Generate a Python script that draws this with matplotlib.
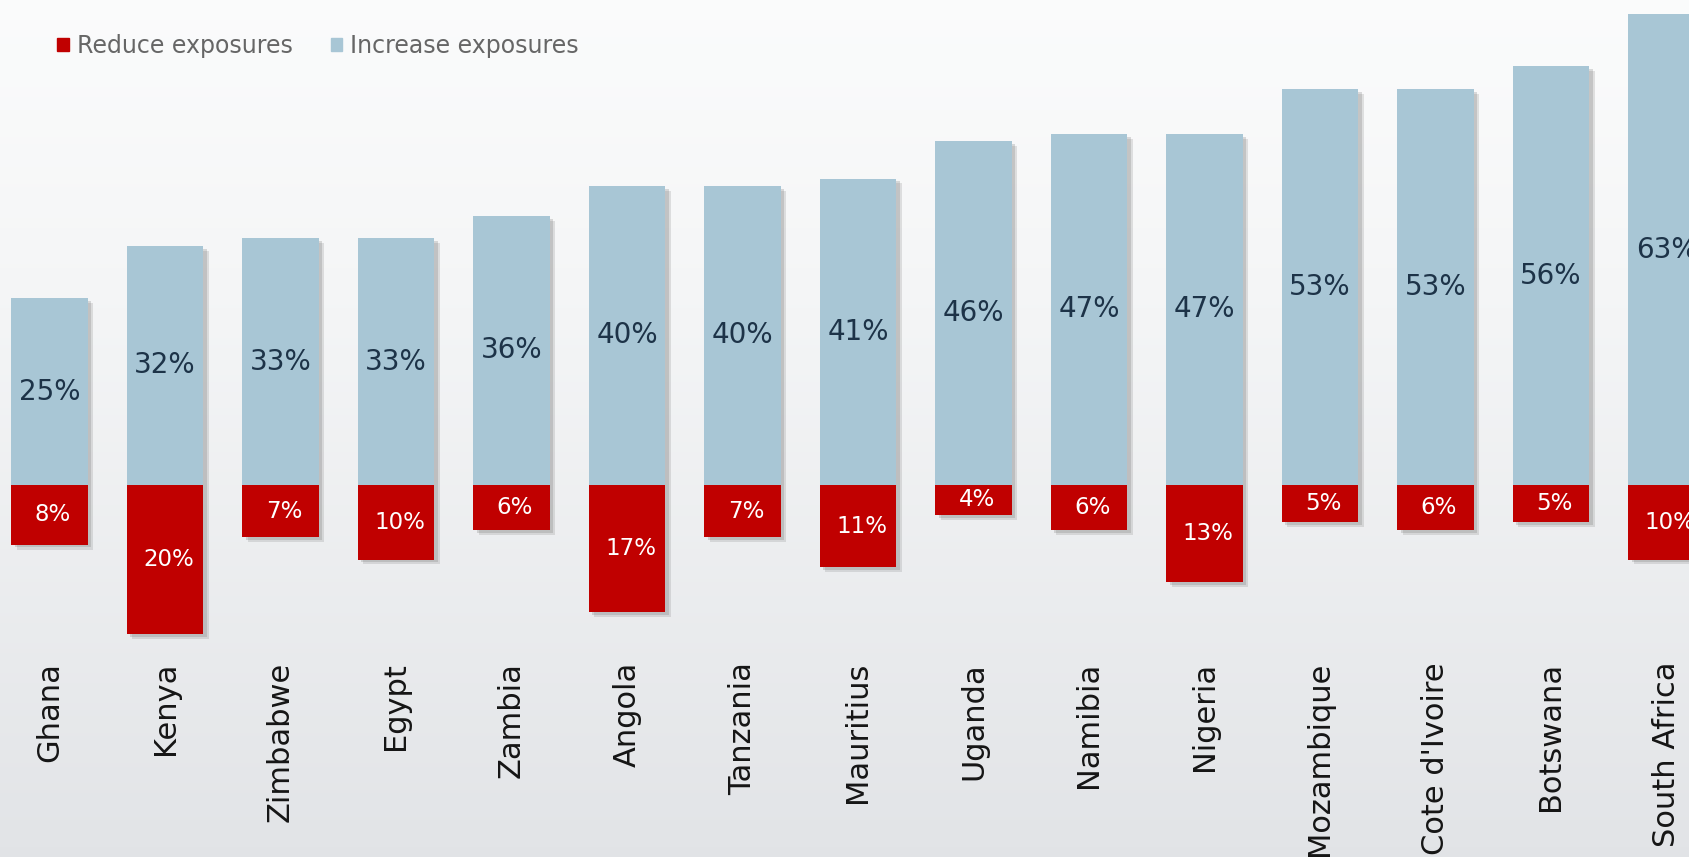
import numpy as np
import matplotlib.pyplot as plt
import matplotlib.patheffects as pe
from matplotlib.patches import Patch

plt.rcParams['font.family'] = ['DejaVu Sans']

countries = ['Ghana', 'Kenya', 'Zimbabwe', 'Egypt', 'Zambia', 'Angola', 'Tanzania',
             'Mauritius', 'Uganda', 'Namibia', 'Nigeria', 'Mozambique',
             "Cote d'Ivoire", 'Botswana', 'South Africa']
increase = [25, 32, 33, 33, 36, 40, 40, 41, 46, 47, 47, 53, 53, 56, 63]
reduce = [8, 20, 7, 10, 6, 17, 7, 11, 4, 6, 13, 5, 6, 5, 10]

blue = '#a8c6d5'
red = '#c00000'

fig = plt.figure(figsize=(16.89, 8.57), dpi=100)

# soft grey gradient behind everything
bg = fig.add_axes([0, 0, 1, 1], zorder=0)
grad = np.linspace(0, 1, 256).reshape(-1, 1)
top = np.array([0.982, 0.985, 0.986])
bottom = np.array([0.885, 0.893, 0.905])
img = top + (bottom - top) * grad[:, :, None] ** 1.3
bg.imshow(img, aspect='auto', extent=[0, 1, 0, 1], origin='upper')
bg.axis('off')

ax = fig.add_axes([0, 0, 1, 1], zorder=1)
ax.patch.set_alpha(0)
x = np.arange(len(countries))
width = 0.66

shadow = [pe.SimplePatchShadow(offset=(4, -3.5), shadow_rgbFace='#777777', alpha=0.2),
          pe.SimplePatchShadow(offset=(2.5, -2), shadow_rgbFace='#777777', alpha=0.25),
          pe.Normal()]

bars_inc = ax.bar(x, increase, width, color=blue, label='Increase exposures')
bars_red = ax.bar(x, [-v for v in reduce], width, color=red, label='Reduce exposures')
for b in list(bars_inc) + list(bars_red):
    b.set_path_effects(shadow)

for i in range(len(countries)):
    ax.text(x[i], increase[i] / 2, f'{increase[i]}%', ha='center', va='center',
            fontsize=20, color='#1d3348')
    ax.text(x[i] + 0.03, -reduce[i] / 2, f'{reduce[i]}%', ha='center', va='center',
            fontsize=16.5, color='white')
    ax.text(x[i], -23.7, countries[i], ha='center', va='top', rotation=90,
            fontsize=22, color='#151515')

ax.set_xlim(-0.4286, 14.195)
ax.set_ylim(-49.8, 64.9)
ax.axis('off')

handles = [Patch(color=red, label='Reduce exposures'),
           Patch(color=blue, label='Increase exposures')]
fig.legend(handles=handles, loc='center left', bbox_to_anchor=(0.027, 0.946),
           ncol=2, frameon=False, fontsize=17, handlelength=0.48, handleheight=0.48,
           handletextpad=0.35, columnspacing=1.6, borderpad=0, labelcolor='#666666')

fig.savefig('out.png', dpi=100)
